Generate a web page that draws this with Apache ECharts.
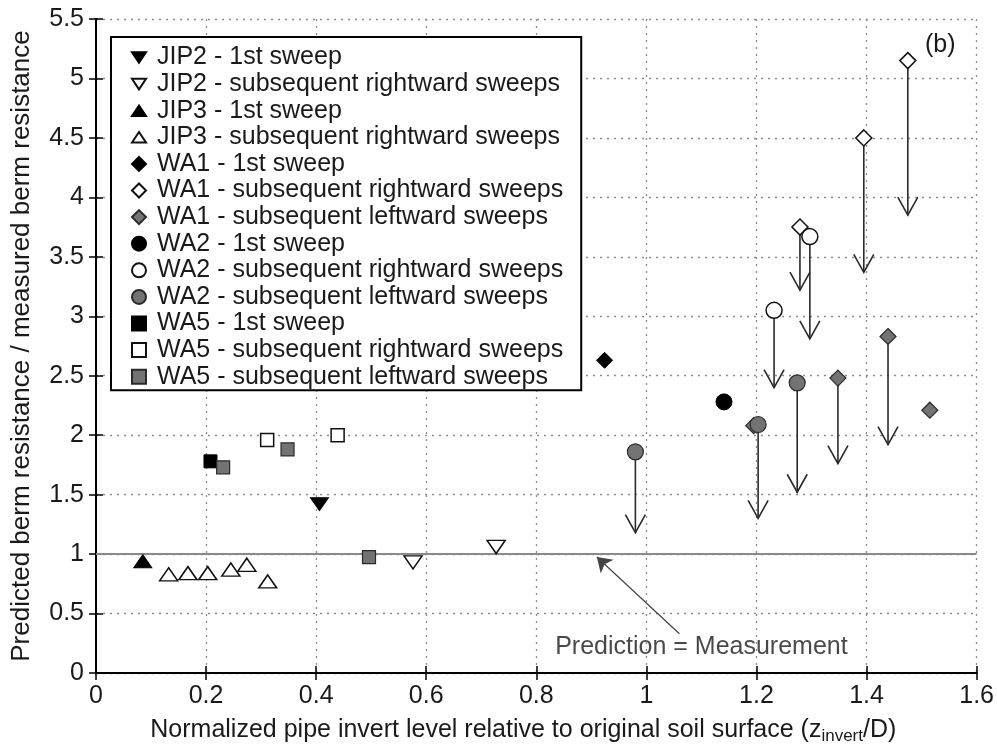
<!DOCTYPE html>
<html>
<head>
<meta charset="utf-8">
<script src="https://cdn.jsdelivr.net/npm/echarts@6/dist/echarts.min.js"></script>
<style>html,body{margin:0;padding:0;background:#fff;}#main{width:997px;height:750px;}</style>
</head>
<body>
<div id="main"></div>
<script>
// ---- data (x = z_invert/D, y = predicted / measured) ----
const xTicks = [0, 0.2, 0.4, 0.6, 0.8, 1, 1.2, 1.4, 1.6];
const yTicks = [0, 0.5, 1, 1.5, 2, 2.5, 3, 3.5, 4, 4.5, 5, 5.5];

const jip2First = [[0.406, 1.42]];
const jip2Sub = [[0.576, 0.93], [0.727, 1.06]];
const jip3First = [[0.085, 0.94]];
const jip3Sub = [[0.132, 0.83], [0.167, 0.84], [0.203, 0.84], [0.245, 0.87], [0.274, 0.91], [0.312, 0.77]];
const wa1First = [[0.924, 2.63]];
const wa1Right = [[1.475, 5.15], [1.395, 4.5], [1.279, 3.75]];
const wa1Left = [[1.348, 2.48], [1.439, 2.83], [1.515, 2.21], [1.195, 2.08]];
const wa2First = [[1.141, 2.28]];
const wa2Right = [[1.297, 3.67], [1.232, 3.05]];
const wa2Left = [[0.98, 1.86], [1.203, 2.09], [1.274, 2.44]];
const wa5First = [[0.208, 1.78]];
const wa5Right = [[0.311, 1.96], [0.439, 2.0]];
const wa5Left = [[0.231, 1.73], [0.348, 1.88], [0.496, 0.975]];

// arrows: [x, y from, y to]
const arrows = [
  [1.475, 5.15, 3.85], [1.395, 4.5, 3.37], [1.279, 3.75, 3.22],
  [1.297, 3.67, 2.81], [1.232, 3.05, 2.40],
  [1.348, 2.48, 1.76], [1.439, 2.83, 1.92],
  [0.98, 1.86, 1.18], [1.203, 2.09, 1.30], [1.274, 2.44, 1.52]
];

const refLineY = 1;
const annotArrow = [[1.06, 0.33], [0.91, 0.975]];
const annotText = 'Prediction = Measurement';
const annotPos = [1.1, 0.22];

// ---- styles ----
const FONT = 'Liberation Sans, Arial, sans-serif';
const FS = 25;
const TXT = '#1a1a1a';
const downTri = 'path://M0,0 L10,0 L5,7.5 Z';
const upTri = 'path://M5,0 L10,7.5 L0,7.5 Z';
const black = {color: '#000', borderColor: '#000', borderWidth: 1, opacity: 1};
const open = {color: '#fff', borderColor: '#111', borderWidth: 1.5, opacity: 1};
const gray = {color: '#737373', borderColor: '#2a2a2a', borderWidth: 1.2, opacity: 1};

function sc(name, data, symbol, size, style) {
  return {name, type: 'scatter', data, symbol, symbolSize: size, itemStyle: style, z: 5, xAxisIndex: 0, yAxisIndex: 0};
}

const chart = echarts.init(document.getElementById('main'));
const series = [
  sc('JIP2 - 1st sweep', jip2First, downTri, [18, 13], black),
  sc('JIP2 - subsequent rightward sweeps', jip2Sub, downTri, [18, 13], open),
  sc('JIP3 - 1st sweep', jip3First, upTri, [18, 13], black),
  sc('JIP3 - subsequent rightward sweeps', jip3Sub, upTri, [18, 13], open),
  sc('WA1 - 1st sweep', wa1First, 'diamond', [16, 16], black),
  sc('WA1 - subsequent rightward sweeps', wa1Right, 'diamond', [16, 16], open),
  sc('WA1 - subsequent leftward sweeps', wa1Left, 'diamond', [16, 16], gray),
  sc('WA2 - 1st sweep', wa2First, 'circle', 16, black),
  sc('WA2 - subsequent rightward sweeps', wa2Right, 'circle', 16, open),
  sc('WA2 - subsequent leftward sweeps', wa2Left, 'circle', 16, gray),
  sc('WA5 - 1st sweep', wa5First, 'rect', 13, black),
  sc('WA5 - subsequent rightward sweeps', wa5Right, 'rect', 13, open),
  sc('WA5 - subsequent leftward sweeps', wa5Left, 'rect', 13, gray),
  {
    name: 'arrows', type: 'custom', data: arrows, z: 3,
    renderItem: function (params, api) {
      const x = api.value(0), y0 = api.value(1), y1 = api.value(2);
      const s = api.coord([x, y0]), e = api.coord([x, y1]);
      const st = {stroke: '#2a2a2a', lineWidth: 1.6, fill: 'none'};
      return {type: 'group', children: [
        {type: 'line', shape: {x1: s[0], y1: s[1], x2: e[0], y2: e[1]}, style: st},
        {type: 'polyline', shape: {points: [[e[0] - 10, e[1] - 18], [e[0], e[1]], [e[0] + 10, e[1] - 18]]}, style: st}
      ]};
    }
  },
  {
    name: 'ref', type: 'line', data: [], z: 2,
    markLine: {
      silent: true, symbol: ['none', 'none'],
      lineStyle: {color: '#8a8a8a', width: 2, type: 'solid'},
      label: {show: false},
      data: [{yAxis: refLineY}]
    }
  },
  {
    name: 'annot', type: 'lines', coordinateSystem: 'cartesian2d', z: 4,
    symbol: ['none', 'arrow'], symbolSize: [9, 14],
    lineStyle: {color: '#444', width: 1.2, opacity: 1},
    data: [{coords: annotArrow}]
  },
  {
    name: 'annotText', type: 'scatter', data: [annotPos], symbolSize: 0, z: 4,
    label: {show: true, position: 'inside', formatter: annotText, fontSize: FS, color: TXT, fontFamily: FONT},
    itemStyle: {color: 'transparent'}
  }
];

const axisLine = {show: true, lineStyle: {color: '#000', width: 2}};
const tick = {show: true, inside: true, length: 7, lineStyle: {color: '#000', width: 1.5}};
const split = {show: true, lineStyle: {color: '#8c8c8c', type: [2, 5], width: 1.3}};

chart.setOption({
  animation: false,
  backgroundColor: '#fff',
  textStyle: {fontFamily: FONT},
  grid: {left: 96, right: 19, top: 19, bottom: 71, containLabel: false},
  xAxis: [{
    type: 'value', min: xTicks[0], max: xTicks[xTicks.length - 1], interval: 0.2,
    axisLine, axisTick: tick, splitLine: split,
    axisLabel: {fontSize: FS, color: TXT, margin: 11, fontFamily: FONT},
    name: 'Normalized pipe invert level relative to original soil surface (z{sub|invert}/D)',
    nameLocation: 'middle', nameGap: 43,
    nameTextStyle: {fontSize: FS, color: TXT, fontFamily: FONT, padding: [0, 26, 0, 0],
      rich: {sub: {fontSize: 17, padding: [12, 0, 0, 0], color: TXT, fontFamily: FONT}}}
  }, {
    type: 'value', position: 'top', min: xTicks[0], max: xTicks[xTicks.length - 1], interval: 0.2,
    axisLine, axisTick: tick, splitLine: {show: false}, axisLabel: {show: false}
  }],
  yAxis: [{
    type: 'value', min: yTicks[0], max: yTicks[yTicks.length - 1], interval: 0.5,
    axisLine, axisTick: tick, splitLine: split,
    axisLabel: {fontSize: FS, color: TXT, margin: 12, fontFamily: FONT},
    name: 'Predicted berm resistance / measured berm resistance',
    nameLocation: 'middle', nameGap: 61,
    nameTextStyle: {fontSize: 26, color: TXT, fontFamily: FONT}
  }, {
    type: 'value', position: 'right', min: yTicks[0], max: yTicks[yTicks.length - 1], interval: 0.5,
    axisLine, axisTick: tick, splitLine: {show: false}, axisLabel: {show: false}
  }],
  legend: {
    data: series.slice(0, 13).map(s => s.name),
    orient: 'vertical', left: 111, top: 37,
    backgroundColor: '#fff', borderColor: '#000', borderWidth: 2,
    padding: [8, 18, 1, 20], itemGap: 1.6, itemWidth: 14, itemHeight: 14,
    textStyle: {fontSize: FS, color: TXT, fontFamily: FONT, padding: [0, 0, 0, 6]},
    selectedMode: false
  },
  graphic: [{
    type: 'text', left: 925, top: 33,
    style: {text: '(b)', fontSize: FS, fill: TXT, fontFamily: FONT}
  }],
  series
});
</script>
</body>
</html>
